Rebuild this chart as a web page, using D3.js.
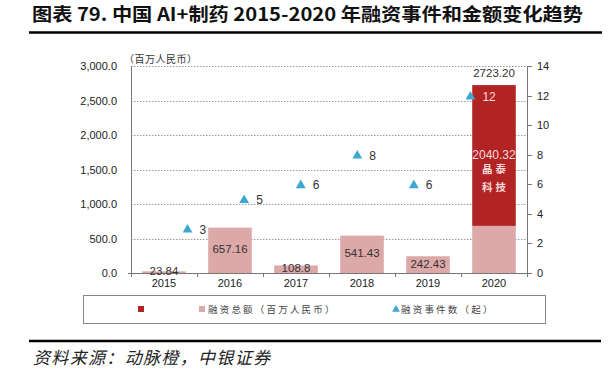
<html>
<head>
  <meta charset="utf-8">
  <script src="https://d3js.org/d3.v7.min.js"></script>
  <style>
    body { margin: 0; background: #fff; }
    text { font-family: Arial, "Liberation Sans", sans-serif; fill: #222; }
    .cjk { font-family: "Noto Sans CJK SC", sans-serif; }
    .grid { stroke: #9a9a9a; stroke-width: 1; stroke-dasharray: 1.5 1.5; }
    .axisline { stroke: #777; stroke-width: 1; fill: none; }
  </style>
</head>
<body>
<svg id="chart" width="612" height="371"></svg>
<script>
  // data
  const years = ["2015", "2016", "2017", "2018", "2019", "2020"];
  const baseAmounts = [23.84, 657.16, 108.8, 541.43, 242.43, 682.88];
  const extraAmounts = [0, 0, 0, 0, 0, 2040.32];
  const baseLabels = ["23.84", "657.16", "108.8", "541.43", "242.43", ""];
  const extraLabels = ["", "", "", "", "", "2040.32"];
  const totalLabels = ["", "", "", "", "", "2723.20"];
  const eventCounts = [3, 5, 6, 8, 6, 12];
  const leftTicks = [0, 500, 1000, 1500, 2000, 2500, 3000];
  const rightTicks = [0, 2, 4, 6, 8, 10, 12, 14];

  const svg = d3.select("#chart");
  const plot = { left: 131, right: 527, top: 66, bottom: 273 };

  const x = d3.scaleBand().domain(years).range([plot.left, plot.right]).paddingInner(0.34).paddingOuter(0.17);
  const xPt = d3.scalePoint().domain(years).range([plot.left, plot.right]).padding(1);
  const yL = d3.scaleLinear().domain([0, 3000]).range([plot.bottom, plot.top]);
  const yR = d3.scaleLinear().domain([0, 14]).range([plot.bottom, plot.top]);

  // title
  svg.append("text").attr("class", "cjk")
    .attr("x", 32).attr("y", 21)
    .attr("font-size", 18).attr("font-weight", "bold")
    .attr("textLength", 551).attr("lengthAdjust", "spacingAndGlyphs")
    .style("fill", "#111")
    .text("图表 79. 中国 AI+制药 2015-2020 年融资事件和金额变化趋势");
  svg.append("line").attr("x1", 29).attr("x2", 602).attr("y1", 32.5).attr("y2", 32.5)
    .attr("stroke", "#000").attr("stroke-width", 2.5);

  // grid
  svg.selectAll("line.grid").data(leftTicks.filter(d => d > 0)).join("line")
    .attr("class", "grid")
    .attr("x1", plot.left).attr("x2", plot.right)
    .attr("y1", d => Math.round(yL(d)) + 0.5).attr("y2", d => Math.round(yL(d)) + 0.5);

  // bars
  const pink = "#dca8a8";
  const red = "#b22424";
  svg.selectAll("rect.base").data(years).join("rect")
    .attr("x", d => x(d)).attr("width", x.bandwidth())
    .attr("y", (d, i) => yL(baseAmounts[i]))
    .attr("height", (d, i) => yL(0) - yL(baseAmounts[i]))
    .attr("fill", pink);
  svg.selectAll("rect.extra").data(years).join("rect")
    .attr("x", d => x(d)).attr("width", x.bandwidth())
    .attr("y", (d, i) => yL(baseAmounts[i] + extraAmounts[i]))
    .attr("height", (d, i) => yL(baseAmounts[i]) - yL(baseAmounts[i] + extraAmounts[i]))
    .attr("fill", red);

  // axes lines
  svg.append("line").attr("class", "axisline")
    .attr("x1", plot.left + 0.5).attr("x2", plot.left + 0.5).attr("y1", plot.top).attr("y2", plot.bottom);
  svg.append("line").attr("class", "axisline")
    .attr("x1", plot.right + 0.5).attr("x2", plot.right + 0.5).attr("y1", plot.top).attr("y2", plot.bottom);
  svg.append("line").attr("class", "axisline")
    .attr("x1", plot.left - 3).attr("x2", plot.right + 4).attr("y1", plot.bottom + 0.5).attr("y2", plot.bottom + 0.5);

  // x tick marks at category boundaries
  const bounds = years.map(d => x(d) - x.step() * x.paddingInner() / 2).concat([plot.right]);
  svg.selectAll("line.xtick").data(bounds).join("line")
    .attr("class", "axisline")
    .attr("x1", d => Math.round(d) + 0.5).attr("x2", d => Math.round(d) + 0.5)
    .attr("y1", plot.bottom).attr("y2", plot.bottom + 4);

  // left tick labels
  svg.selectAll("text.yl").data(leftTicks).join("text")
    .attr("x", 117).attr("y", d => yL(d) + 4)
    .attr("text-anchor", "end").attr("font-size", 11)
    .text(d => d3.format(",.1f")(d));

  // right ticks
  svg.selectAll("line.yr").data(rightTicks).join("line")
    .attr("class", "axisline")
    .attr("x1", plot.right).attr("x2", plot.right + 5)
    .attr("y1", d => Math.round(yR(d)) + 0.5).attr("y2", d => Math.round(yR(d)) + 0.5);
  svg.selectAll("text.yr").data(rightTicks).join("text")
    .attr("x", 537).attr("y", d => yR(d) + 4)
    .attr("font-size", 11)
    .text(d => d);

  // x labels
  svg.selectAll("text.xl").data(years).join("text")
    .attr("x", d => x(d) + x.bandwidth() / 2).attr("y", 287)
    .attr("text-anchor", "middle").attr("font-size", 11)
    .text(d => d);

  // unit label
  svg.append("text").attr("class", "cjk")
    .attr("x", 124).attr("y", 63).attr("font-size", 10)
    .attr("textLength", 73).style("fill", "#333")
    .text("（百万人民币）");

  // bar labels
  svg.selectAll("text.bl").data(years).join("text")
    .attr("x", d => x(d) + x.bandwidth() / 2)
    .attr("y", (d, i) => (yL(baseAmounts[i]) + yL(0)) / 2 + 3)
    .attr("text-anchor", "middle").attr("font-size", 11.5)
    .style("fill", "#333")
    .text((d, i) => baseLabels[i]);
  svg.selectAll("text.el").data(years).join("text")
    .attr("x", d => x(d) + x.bandwidth() / 2)
    .attr("y", (d, i) => (yL(baseAmounts[i]) + yL(baseAmounts[i] + extraAmounts[i])) / 2 + 4)
    .attr("text-anchor", "middle").attr("font-size", 12)
    .style("fill", "#fbd9d9")
    .text((d, i) => extraLabels[i]);
  svg.selectAll("text.tl").data(years).join("text")
    .attr("x", d => x(d) + x.bandwidth() / 2)
    .attr("y", (d, i) => yL(baseAmounts[i] + extraAmounts[i]) - 8)
    .attr("text-anchor", "middle").attr("font-size", 11.5)
    .style("fill", "#333")
    .text((d, i) => totalLabels[i]);

  // note inside the 2020 bar
  const x2020 = x("2020") + x.bandwidth() / 2;
  svg.append("text").attr("class", "cjk")
    .attr("x", x2020 + 1.5).attr("y", 173).attr("text-anchor", "middle")
    .attr("font-size", 10.5).attr("font-weight", "bold").attr("letter-spacing", 3)
    .style("fill", "#fbd9d9").text("晶泰");
  svg.append("text").attr("class", "cjk")
    .attr("x", x2020 + 1.5).attr("y", 191).attr("text-anchor", "middle")
    .attr("font-size", 10.5).attr("font-weight", "bold").attr("letter-spacing", 3)
    .style("fill", "#fbd9d9").text("科技");

  // triangles
  const blue = "#3ea7cf";
  const tri = d3.symbol().type(d3.symbolTriangle).size(42);
  svg.selectAll("path.tri").data(years).join("path")
    .attr("d", tri)
    .attr("transform", (d, i) => `translate(${xPt(d)},${yR(eventCounts[i]) + 1})`)
    .attr("fill", blue);
  svg.selectAll("text.tri").data(years).join("text")
    .attr("x", d => xPt(d) + 12).attr("y", (d, i) => yR(eventCounts[i]) + 5)
    .attr("font-size", 12)
    .style("fill", (d, i) => i === years.length - 1 ? "#fbd9d9" : "#333")
    .text((d, i) => eventCounts[i]);

  // legend
  svg.append("rect").attr("x", 83.5).attr("y", 295.5).attr("width", 462).attr("height", 28)
    .attr("fill", "#fff").attr("stroke", "#888");
  svg.append("rect").attr("x", 138).attr("y", 306).attr("width", 6).attr("height", 6).attr("fill", red);
  svg.append("rect").attr("x", 199).attr("y", 306).attr("width", 6).attr("height", 6).attr("fill", pink);
  svg.append("text").attr("class", "cjk").attr("x", 208).attr("y", 313)
    .attr("font-size", 9.5).attr("letter-spacing", 2.2).style("fill", "#444")
    .text("融资总额（百万人民币）");
  svg.append("path").attr("d", d3.symbol().type(d3.symbolTriangle).size(26))
    .attr("transform", "translate(396,309.5)").attr("fill", blue);
  svg.append("text").attr("class", "cjk").attr("x", 401).attr("y", 313)
    .attr("font-size", 9.5).attr("letter-spacing", 2.2).style("fill", "#444")
    .text("融资事件数（起）");

  // footer
  svg.append("line").attr("x1", 29).attr("x2", 601).attr("y1", 341).attr("y2", 341)
    .attr("stroke", "#000").attr("stroke-width", 2.5);
  svg.append("text").attr("class", "cjk")
    .attr("x", 33).attr("y", 364).attr("font-size", 17).attr("font-style", "italic")
    .attr("textLength", 237).style("fill", "#222")
    .text("资料来源：动脉橙，中银证券");
</script>
</body>
</html>
